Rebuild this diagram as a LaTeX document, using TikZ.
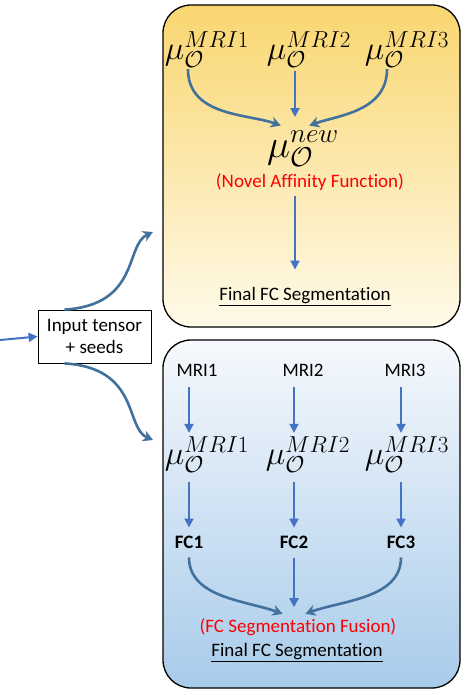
\RequirePackage{fix-cm}
\documentclass[tikz,border=0pt]{standalone}
\usepackage{fontspec}
\setmainfont[Ligatures=NoCommon]{Carlito}
\usetikzlibrary{arrows.meta}

\definecolor{flowblue}{RGB}{68,114,196}
\definecolor{fuseblue}{RGB}{65,113,156}
\definecolor{sunyellow}{RGB}{249,214,112}
\definecolor{midyellow}{RGB}{251,228,156}
\definecolor{paleyellow}{RGB}{255,250,234}
\definecolor{skyblue}{RGB}{168,203,234}
\definecolor{paleblue}{RGB}{246,249,253}

\tikzset{
  panel/.style={draw=black, line width=1.3pt, rounded corners=28pt, minimum width=297, minimum height=322},
  txt/.style={font=\fontsize{19}{22}\selectfont, inner sep=1pt},
  mu/.style={font=\fontsize{33}{35}\selectfont, inner sep=1pt},
  flow/.style={flowblue, line width=2pt, -{Triangle[length=9pt,width=9pt]}},
  fuse/.style={fuseblue, line width=2.6pt, -{Stealth[length=10pt,width=11pt,inset=3pt]}},
}

\begin{document}
\begin{tikzpicture}[x=1pt,y=-1pt]
  \useasboundingbox (0,0) rectangle (466,695);
  \begin{scope}
    \node[panel, top color=sunyellow, middle color=midyellow, bottom color=paleyellow] (ptop) at (311.5,166) {};
    \node[mu] (m1) at (207,50) {$\mu_{\mathcal{O}}^{MRI1}$};
    \node[mu] (m2) at (309,50) {$\mu_{\mathcal{O}}^{MRI2}$};
    \node[mu] (m3) at (407,50) {$\mu_{\mathcal{O}}^{MRI3}$};
    \node[mu, font=\fontsize{39}{41}\selectfont] (new) at (303,149) {$\mu_{\mathcal{O}}^{new}$};
    \node[txt, red] (naf) at (310,182) {(Novel Affinity Function)};
    \node[txt] (ftop) at (305,297) {\underline{Final FC Segmentation}};
    \draw[fuse, shorten >=13pt] ([xshift=-19pt]m1.south) to[out=-90,in=160] ([xshift=-10pt]new.north);
    \draw[flow, shorten <=2pt, shorten >=13pt] ([xshift=-14pt]m2.south) -- ([xshift=-8pt]new.north);
    \draw[fuse, shorten >=13pt] ([xshift=-20pt]m3.south) to[out=-90,in=20] ([xshift=-6pt]new.north);
    \draw[flow, shorten <=4pt, shorten >=17pt] ([xshift=-15pt]naf.south) -- ([xshift=-10pt]ftop.north);
  \end{scope}
  \begin{scope}
    \node[panel, minimum height=348, top color=paleblue, bottom color=skyblue] (pbot) at (311.5,514) {};
    \foreach \i/\x/\xm/\xf in {1/197/207/189, 2/303/308/294, 3/405/407/401} {
      \node[txt] (r\i) at (\x,370) {MRI\i};
      \node[mu] (b\i) at (\xm,455) {$\mu_{\mathcal{O}}^{MRI\i}$};
      \node[txt, font=\fontsize{19}{22}\selectfont\bfseries] (f\i) at (\xf,542) {FC\i};
      \draw[flow, shorten <=10pt, shorten >=3pt] (r\i.south -| f\i) -- (b\i.north -| f\i);
      \draw[flow, shorten <=8pt, shorten >=7pt] (b\i.south -| f\i) -- (f\i.north);
    }
    \node[txt, red] (fsf) at (298,627) {(FC Segmentation Fusion)};
    \node[txt] (fbot) at (297,653) {\underline{Final FC Segmentation}};
    \draw[fuse, shorten <=8pt, shorten >=10pt] (f1.south) to[out=-90,in=160] ([xshift=-6pt]fsf.north);
    \draw[flow, shorten <=8pt, shorten >=10pt] (f2.south) -- ([xshift=-4pt]fsf.north);
    \draw[fuse, shorten <=8pt, shorten >=10pt] (f3.south) to[out=-90,in=20] ([xshift=-2pt]fsf.north);
  \end{scope}
  \node[draw=black, line width=0.8pt, minimum width=113, minimum height=53, align=center, txt] (inp) at (94.5,336.5) {Input tensor\\+ seeds};
  \coordinate (src) at (0,340);
  \coordinate (up) at (153,232);
  \coordinate (dn) at (153,440);
  \draw[flow] (src) -- (inp.west);
  \draw[fuse] ([xshift=-30pt]inp.north) .. controls (140,305) and (125,245) .. (up);
  \draw[fuse] ([xshift=-30pt]inp.south) .. controls (140,368) and (125,428) .. (dn);
\end{tikzpicture}
\end{document}
